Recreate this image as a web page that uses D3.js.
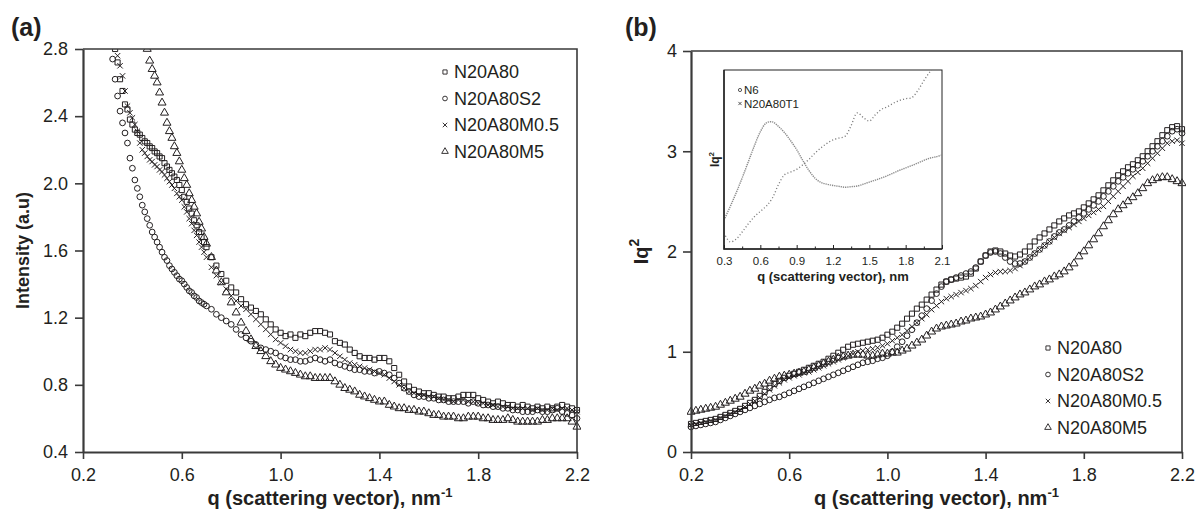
<!DOCTYPE html>
<html><head><meta charset="utf-8">
<script src="https://cdn.jsdelivr.net/npm/d3@7"></script>
<style>body{margin:0;background:#fff} svg{display:block;font-family:Arial,"Liberation Sans",sans-serif}</style>
</head><body><svg id="c" width="1197" height="520"></svg>
<script>
// ---------- data ----------
const seriesNames = ["N20A80", "N20A80S2", "N20A80M0.5", "N20A80M5"];
const insetNames = ["N6", "N20A80T1"];

const qA = [0.30,0.31,0.32,0.33,0.34,0.35,0.36,0.37,0.38,0.39,0.40,0.41,0.42,0.43,0.44,0.45,0.46,0.47,0.48,0.49,0.50,0.51,0.52,0.53,0.54,0.55,0.56,0.57,0.58,0.59,0.60,0.61,0.62,0.63,0.64,0.65,0.66,0.67,0.68,0.69,0.70,
0.72,0.74,0.76,0.78,0.80,0.82,0.84,0.86,0.88,0.90,
0.92,0.94,0.96,0.98,1.00,1.02,1.04,1.06,1.08,1.10,
1.12,1.14,1.16,1.18,1.20,1.22,1.24,1.26,1.28,1.30,
1.32,1.34,1.36,1.38,1.40,1.42,1.44,1.46,1.48,1.50,
1.52,1.54,1.56,1.58,1.60,1.62,1.64,1.66,1.68,1.70,
1.72,1.74,1.76,1.78,1.80,1.82,1.84,1.86,1.88,1.90,
1.92,1.94,1.96,1.98,2.00,2.02,2.04,2.06,2.08,2.10,
2.12,2.14,2.16,2.18,2.20];

const aSquare = [3.05,2.96,2.88,2.80,2.72,2.62,2.55,2.47,2.44,2.38,2.35,2.32,2.30,2.29,2.27,2.25,2.24,2.22,2.21,2.19,2.18,2.16,2.15,2.12,2.10,2.08,2.06,2.04,2.02,1.99,1.96,1.92,1.89,1.85,1.82,1.78,1.75,1.71,1.68,1.65,1.62,
1.56,1.51,1.46,1.42,1.38,1.35,1.31,1.28,1.26,1.24,
1.22,1.19,1.16,1.13,1.11,1.09,1.10,1.08,1.10,1.09,
1.11,1.12,1.12,1.11,1.10,1.06,1.05,1.04,1.01,0.99,
0.97,0.96,0.96,0.95,0.96,0.96,0.94,0.90,0.86,0.82,
0.79,0.77,0.76,0.75,0.75,0.74,0.73,0.73,0.72,0.72,
0.73,0.74,0.74,0.74,0.72,0.71,0.70,0.69,0.70,0.69,
0.68,0.68,0.67,0.68,0.67,0.66,0.67,0.66,0.67,0.66,
0.67,0.68,0.67,0.66,0.65];

const aCircle = [2.95,2.83,2.74,2.62,2.52,2.43,2.36,2.30,2.24,2.15,2.09,2.02,1.97,1.92,1.87,1.83,1.79,1.75,1.71,1.68,1.65,1.62,1.59,1.56,1.54,1.51,1.49,1.47,1.45,1.43,1.42,1.40,1.38,1.36,1.35,1.33,1.32,1.30,1.29,1.28,1.27,
1.25,1.22,1.20,1.18,1.16,1.13,1.10,1.08,1.06,1.04,
1.02,1.01,1.00,0.99,0.97,0.96,0.95,0.95,0.94,0.94,
0.95,0.96,0.95,0.94,0.95,0.93,0.92,0.91,0.90,0.89,
0.89,0.88,0.88,0.87,0.88,0.87,0.86,0.84,0.81,0.78,
0.76,0.74,0.73,0.73,0.72,0.72,0.71,0.71,0.70,0.70,
0.70,0.70,0.69,0.70,0.69,0.68,0.68,0.67,0.67,0.66,
0.66,0.65,0.65,0.64,0.64,0.64,0.65,0.64,0.64,0.65,
0.66,0.64,0.63,0.62,0.60];

const aCross = [3.05,2.98,2.90,2.83,2.76,2.70,2.64,2.55,2.46,2.42,2.39,2.35,2.31,2.24,2.20,2.18,2.16,2.14,2.13,2.11,2.10,2.08,2.07,2.05,2.03,2.01,1.99,1.97,1.94,1.92,1.90,1.86,1.83,1.79,1.76,1.72,1.69,1.65,1.62,1.59,1.56,
1.50,1.45,1.41,1.37,1.33,1.30,1.27,1.25,1.22,1.19,
1.16,1.13,1.10,1.07,1.05,1.03,1.01,1.00,0.99,0.99,
1.00,1.01,1.01,1.02,1.01,0.99,0.97,0.95,0.93,0.92,
0.91,0.90,0.89,0.88,0.87,0.86,0.84,0.82,0.80,0.78,
0.76,0.75,0.74,0.74,0.73,0.73,0.72,0.71,0.71,0.70,
0.71,0.71,0.70,0.70,0.69,0.69,0.68,0.68,0.67,0.67,
0.67,0.66,0.66,0.66,0.66,0.65,0.66,0.65,0.65,0.66,
0.65,0.66,0.66,0.65,0.64];

const aTriangle = [null,null,null,null,null,null,null,null,null,null,null,null,null,null,null,null,2.80,2.73,2.68,2.64,2.60,2.54,2.48,2.42,2.36,2.31,2.27,2.22,2.18,2.13,2.08,2.03,1.99,1.94,1.90,1.86,1.82,1.77,1.73,1.68,1.64,
1.56,1.48,1.41,1.35,1.29,1.23,1.17,1.12,1.07,1.03,
1.00,0.97,0.94,0.92,0.90,0.89,0.88,0.87,0.86,0.85,
0.85,0.84,0.84,0.84,0.84,0.82,0.80,0.78,0.77,0.76,
0.74,0.73,0.72,0.71,0.70,0.70,0.68,0.67,0.66,0.66,
0.65,0.65,0.64,0.64,0.63,0.62,0.62,0.61,0.61,0.61,
0.60,0.60,0.61,0.61,0.61,0.60,0.60,0.59,0.59,0.59,
0.60,0.59,0.58,0.58,0.58,0.58,0.58,0.59,0.59,0.60,
0.60,0.60,0.60,0.58,0.55];

const qB = [0.20,0.22,0.24,0.26,0.28,0.30,0.32,0.34,0.36,0.38,
0.40,0.42,0.44,0.46,0.48,0.50,0.52,0.54,0.56,0.58,
0.60,0.62,0.64,0.66,0.68,0.70,0.72,0.74,0.76,0.78,
0.80,0.82,0.84,0.86,0.88,0.90,0.92,0.94,0.96,0.98,
1.00,1.02,1.04,1.06,1.08,1.10,1.12,1.14,1.16,1.18,
1.20,1.22,1.24,1.26,1.28,1.30,1.32,1.34,1.36,1.38,
1.40,1.42,1.44,1.46,1.48,1.50,1.52,1.54,1.56,1.58,
1.60,1.62,1.64,1.66,1.68,1.70,1.72,1.74,1.76,1.78,
1.80,1.82,1.84,1.86,1.88,1.90,1.92,1.94,1.96,1.98,
2.00,2.02,2.04,2.06,2.08,2.10,2.12,2.14,2.16,2.18,
2.20];

const bSquare = [0.28,0.29,0.30,0.31,0.32,0.33,0.35,0.37,0.39,0.41,
0.43,0.46,0.49,0.52,0.56,0.60,0.64,0.68,0.71,0.74,
0.76,0.78,0.80,0.82,0.84,0.86,0.88,0.90,0.93,0.96,
0.99,1.02,1.05,1.07,1.08,1.09,1.10,1.11,1.12,1.14,
1.17,1.20,1.24,1.28,1.33,1.38,1.43,1.47,1.52,1.57,
1.62,1.67,1.70,1.72,1.73,1.74,1.75,1.78,1.83,1.90,
1.96,2.00,2.01,2.00,1.98,1.96,1.95,1.97,2.00,2.05,
2.10,2.14,2.18,2.22,2.26,2.30,2.33,2.36,2.38,2.40,
2.44,2.48,2.52,2.56,2.61,2.66,2.71,2.76,2.80,2.84,
2.87,2.91,2.95,3.00,3.05,3.10,3.16,3.21,3.24,3.25,
3.22];

const bCircle = [0.25,0.26,0.27,0.28,0.29,0.30,0.32,0.34,0.36,0.38,
0.40,0.42,0.44,0.46,0.48,0.50,0.52,0.54,0.55,0.57,
0.59,0.61,0.63,0.65,0.67,0.69,0.71,0.73,0.75,0.77,
0.79,0.81,0.83,0.85,0.87,0.89,0.90,0.91,0.93,0.94,
0.96,1.00,1.05,1.10,1.16,1.22,1.29,1.36,1.43,1.51,
1.58,1.65,1.70,1.72,1.74,1.76,1.78,1.80,1.84,1.90,
1.96,1.99,2.00,1.98,1.94,1.90,1.88,1.88,1.90,1.94,
1.98,2.02,2.06,2.10,2.15,2.19,2.22,2.26,2.30,2.34,
2.38,2.42,2.46,2.50,2.55,2.60,2.65,2.70,2.74,2.78,
2.82,2.86,2.90,2.95,3.00,3.05,3.10,3.15,3.20,3.22,
3.18];

const bCross = [0.27,0.28,0.29,0.30,0.31,0.32,0.34,0.36,0.38,0.40,
0.42,0.45,0.48,0.51,0.54,0.58,0.62,0.66,0.69,0.72,
0.74,0.76,0.77,0.79,0.80,0.82,0.84,0.86,0.88,0.90,
0.92,0.94,0.96,0.98,1.00,1.01,1.02,1.03,1.04,1.06,
1.08,1.11,1.14,1.17,1.21,1.25,1.29,1.33,1.37,1.42,
1.46,1.50,1.53,1.55,1.57,1.59,1.61,1.63,1.66,1.70,
1.74,1.77,1.79,1.80,1.80,1.81,1.83,1.86,1.90,1.94,
1.98,2.02,2.06,2.10,2.14,2.18,2.21,2.24,2.27,2.30,
2.33,2.36,2.39,2.42,2.45,2.50,2.55,2.60,2.65,2.70,
2.75,2.79,2.83,2.88,2.93,2.98,3.03,3.08,3.10,3.11,
3.08];

const bTriangle = [0.40,0.41,0.42,0.43,0.44,0.45,0.47,0.49,0.51,0.53,
0.55,0.58,0.61,0.63,0.66,0.68,0.71,0.73,0.75,0.76,
0.77,0.78,0.79,0.80,0.82,0.84,0.86,0.88,0.90,0.92,
0.94,0.95,0.96,0.97,0.97,0.97,0.96,0.96,0.97,0.98,
0.98,0.99,0.99,1.01,1.03,1.06,1.09,1.12,1.16,1.20,
1.23,1.25,1.26,1.27,1.28,1.30,1.31,1.33,1.34,1.35,
1.37,1.39,1.42,1.45,1.48,1.51,1.54,1.57,1.59,1.62,
1.65,1.67,1.70,1.72,1.75,1.77,1.80,1.84,1.88,1.95,
2.00,2.06,2.12,2.18,2.25,2.31,2.37,2.42,2.46,2.50,
2.54,2.58,2.63,2.68,2.71,2.73,2.74,2.74,2.72,2.70,
2.68];

const qI = [0.30,0.35,0.40,0.45,0.50,0.55,0.60,0.65,0.70,0.75,0.80,0.85,0.90,0.95,1.00,1.05,1.10,1.15,1.20,1.25,1.30,1.35,1.40,1.45,1.50,1.55,1.60,1.65,1.70,1.75,1.80,1.85,1.90,1.95,2.00,2.05,2.10];
const iN6 = [1.62,2.35,3.13,3.97,4.86,5.75,6.55,7.05,7.10,6.85,6.50,6.05,5.55,4.95,4.40,3.97,3.72,3.62,3.55,3.50,3.45,3.48,3.52,3.62,3.74,3.85,3.97,4.10,4.25,4.40,4.53,4.66,4.80,4.95,5.08,5.15,5.25];
const iT1 = [0.90,0.40,0.55,0.95,1.40,1.80,2.10,2.40,2.85,3.60,4.15,4.30,4.45,4.70,5.00,5.35,5.65,5.90,6.10,6.20,6.30,6.90,7.60,7.35,7.15,7.50,7.80,7.95,8.15,8.30,8.40,8.45,8.85,9.40,9.90,10.3,10.8];

const xTicks = [0.2, 0.6, 1.0, 1.4, 1.8, 2.2];
const yTicksA = [0.4, 0.8, 1.2, 1.6, 2.0, 2.4, 2.8];
const yTicksB = [0, 1, 2, 3, 4];
const insetTicks = [0.3, 0.6, 0.9, 1.2, 1.5, 1.8, 2.1];
const insetMinor = [0.45, 0.75, 1.05, 1.35, 1.65, 1.95];

// ---------- drawing ----------
const svg = d3.select('#c');
const INK = '#231f20';
const shapes = ['square', 'circle', 'cross', 'triangle'];

function marker(sel, shape, s) {
  s = s || 1;
  if (shape === 'cross') {
    const h = 2.7 * s;
    sel.append('path').attr('d', `M${-h},${-h}L${h},${h}M${-h},${h}L${h},${-h}`);
  } else {
    const t = {square: d3.symbolSquare, circle: d3.symbolCircle, triangle: d3.symbolTriangle}[shape];
    const size = {square: 26, circle: 26, triangle: 28}[shape] * s * s;
    sel.append('path').attr('d', d3.symbol(t, size)());
  }
}

function panel(o) {
  const g = svg.append('g');
  const x = d3.scaleLinear().domain(o.xd).range([o.L, o.R]);
  const y = d3.scaleLinear().domain(o.yd).range([o.B, o.T]);
  const id = 'clip' + o.name;
  svg.append('clipPath').attr('id', id).append('rect')
    .attr('x', o.L - 4).attr('y', o.T).attr('width', o.R - o.L + 8).attr('height', o.B - o.T + 4);
  const data = g.append('g').attr('clip-path', `url(#${id})`);
  o.series.forEach((vals, k) => {
    const pts = o.q.map((q, i) => [q, vals[i]]).filter(d => d[1] != null);
    const sg = data.append('g').attr('fill', 'none').attr('stroke', INK).attr('stroke-width', 1.0);
    pts.forEach(d => {
      const m = sg.append('g').attr('transform', `translate(${x(d[0])},${y(d[1])})`);
      marker(m, shapes[k]);
    });
  });
  // frame
  g.append('path').attr('d', `M${o.L},${o.T}H${o.R}V${o.B}`).attr('fill', 'none').attr('stroke', '#3a3a3a').attr('stroke-width', 1.6);
  const xa = g.append('g').attr('transform', `translate(0,${o.B})`)
    .call(d3.axisBottom(x).tickValues(xTicks).tickFormat(d3.format('.1f')).tickSize(7).tickSizeOuter(0).tickPadding(9));
  const ya = g.append('g').attr('transform', `translate(${o.L},0)`)
    .call(d3.axisLeft(y).tickValues(o.yt).tickFormat(o.yf).tickSize(8).tickSizeOuter(0).tickPadding(o.ypad));
  [xa, ya].forEach(a => {
    a.select('.domain').attr('stroke', '#3a3a3a').attr('stroke-width', 2.2);
    a.selectAll('.tick line').attr('stroke', '#3a3a3a').attr('stroke-width', 1.6);
    a.selectAll('.tick text').attr('fill', INK).style('font-size', '18px').style('font-family', 'Arial, "Liberation Sans", sans-serif');
  });
  // x title
  const xt = g.append('text').attr('x', (o.L + o.R) / 2).attr('y', 505).attr('text-anchor', 'middle')
    .attr('font-weight', 'bold').attr('font-size', 20).attr('fill', INK);
  xt.append('tspan').text('q (scattering vector), nm');
  xt.append('tspan').attr('dy', -8).attr('font-size', 13).text('-1');
  // y title
  const yt = g.append('text').attr('transform', `translate(${o.yx},${(o.T + o.B) / 2}) rotate(-90)`)
    .attr('text-anchor', 'middle').attr('font-weight', 'bold').attr('font-size', o.ytSize).attr('fill', INK);
  o.ytitle(yt);
  // panel letter
  g.append('text').attr('x', o.lx).attr('y', 36).attr('font-weight', 'bold').attr('font-size', 25).attr('fill', INK).text(o.letter);
  // legend
  const lg = g.append('g');
  seriesNames.forEach((n, k) => {
    const row = lg.append('g').attr('transform', `translate(${o.legX},${o.legY + k * 26.5})`);
    const m = row.append('g').attr('fill', 'none').attr('stroke', INK).attr('stroke-width', 0.9);
    marker(m, shapes[k], 0.82);
    row.append('text').attr('x', 9).attr('y', 0).attr('dy', '0.35em').attr('font-size', 18).attr('fill', INK).text(n);
  });
  return {x, y};
}

panel({name: 'A', L: 83, R: 577, T: 49, B: 452, xd: [0.2, 2.2], yd: [0.4, 2.8], q: qA,
  series: [aSquare, aCircle, aCross, aTriangle], yt: yTicksA, yf: d3.format('.1f'), ypad: 7,
  yx: 29, ytSize: 18, ytitle: t => t.text('Intensity (a.u)'), letter: '(a)', lx: 11, legX: 445, legY: 72});

panel({name: 'B', L: 691, R: 1182, T: 51, B: 452, xd: [0.2, 2.2], yd: [0, 4], q: qB,
  series: [bSquare, bCircle, bCross, bTriangle], yt: yTicksB, yf: d3.format('d'), ypad: 6,
  yx: 648, ytSize: 20, ytitle: t => { t.append('tspan').text('Iq'); t.append('tspan').attr('dy', -9).attr('font-size', 14).text('2'); },
  letter: '(b)', lx: 625, legX: 1048, legY: 348});

// ---------- inset ----------
(function () {
  const L = 724, R = 942, T = 70, B = 249;
  const g = svg.append('g');
  g.append('rect').attr('x', L).attr('y', T).attr('width', R - L).attr('height', B - T).attr('fill', '#fff').attr('stroke', '#222').attr('stroke-width', 1);
  const x = d3.scaleLinear().domain([0.3, 2.1]).range([L, R]);
  const y = d3.scaleLinear().domain([0, 10]).range([B, T]);
  svg.append('clipPath').attr('id', 'clipI').append('rect').attr('x', L).attr('y', T).attr('width', R - L).attr('height', B - T);
  const line = d3.line().x(d => x(d[0])).y(d => y(d[1])).curve(d3.curveCatmullRom);
  [iN6, iT1].forEach((vals, k) => {
    g.append('path').attr('clip-path', 'url(#clipI)')
      .attr('d', line(qI.map((q, i) => [q, vals[i]])))
      .attr('fill', 'none').attr('stroke', k === 0 ? '#8a8a8a' : '#7a7a7a').attr('stroke-width', k === 0 ? 1.4 : 1.3)
      .attr('stroke-dasharray', k === 0 ? '1.3,0.9' : '1.1,2.2');
  });
  g.append('path').attr('d', `M${L},${T}V${B}H${R}`).attr('fill', 'none').attr('stroke', '#222').attr('stroke-width', 1.5);
  const ax = g.append('g').attr('transform', `translate(0,${B})`)
    .call(d3.axisBottom(x).tickValues(insetTicks).tickFormat(d3.format('.1f')).tickSizeInner(-4).tickSizeOuter(0).tickPadding(8));
  ax.select('.domain').remove();
  ax.selectAll('.tick line').attr('stroke', '#222');
  ax.selectAll('.tick text').attr('fill', INK).style('font-size', '11.5px');
  const mn = g.append('g').attr('transform', `translate(0,${B})`)
    .call(d3.axisBottom(x).tickValues(insetMinor).tickFormat('').tickSizeInner(-2.5).tickSizeOuter(0));
  mn.select('.domain').remove();
  mn.selectAll('.tick line').attr('stroke', '#222');
  g.append('text').attr('x', (L + R) / 2).attr('y', 281).attr('text-anchor', 'middle')
    .attr('font-weight', 'bold').attr('font-size', 13).attr('fill', INK).text('q (scattering vector), nm');
  const yt = g.append('text').attr('transform', `translate(${L - 5},${(T + B) / 2}) rotate(-90)`)
    .attr('text-anchor', 'middle').attr('font-weight', 'bold').attr('font-size', 12).attr('fill', INK);
  yt.append('tspan').text('Iq'); yt.append('tspan').attr('dy', -5).attr('font-size', 8).text('2');
  insetNames.forEach((n, k) => {
    const row = g.append('g').attr('transform', `translate(740,${90 + k * 13.5})`);
    if (k === 0) row.append('circle').attr('r', 1.6).attr('fill', 'none').attr('stroke', '#444').attr('stroke-width', 0.9);
    else row.append('path').attr('d', 'M-1.6,-1.6L1.6,1.6M-1.6,1.6L1.6,-1.6').attr('stroke', '#444').attr('stroke-width', 0.9);
    row.append('text').attr('x', 4).attr('dy', '0.35em').attr('font-size', 11.5).attr('fill', INK).text(n);
  });
})();
</script></body></html>
